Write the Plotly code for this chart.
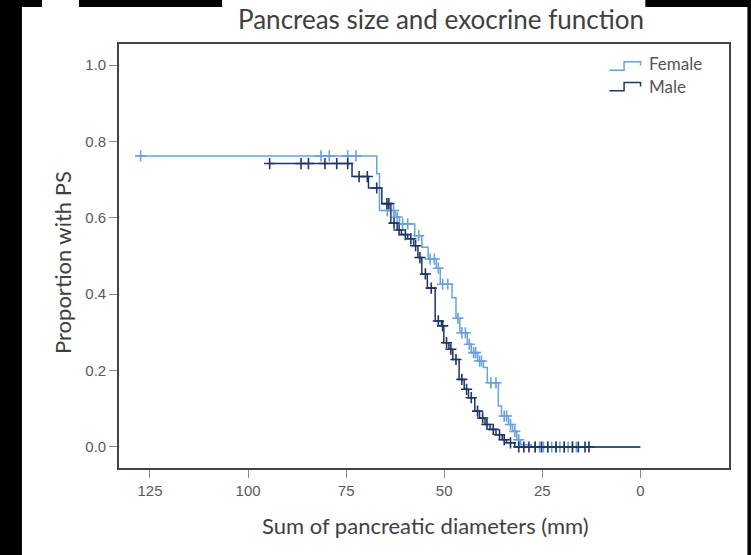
import plotly.graph_objects as go

# ---- data ----
female_start_x = 127.4
female_start_y = 0.762
female_event_x = [67.2, 66.5, 62.5, 61.4, 57.5, 55.7, 54.1, 52.0, 51.0, 48.0, 47.0, 46.0,
                  44.1, 43.1, 41.5, 40.0, 39.0, 36.2, 35.4, 33.6, 32.6, 31.5, 30.5, 27.8]
female_event_y = [0.715, 0.619, 0.602, 0.584, 0.553, 0.523, 0.492, 0.468, 0.426, 0.391, 0.337, 0.299,
                  0.269, 0.247, 0.225, 0.208, 0.168, 0.107, 0.081, 0.059, 0.041, 0.019, 0.006, 0.0]
female_censor_x = [127.4, 81.4, 79.3, 74.6, 72.5, 64.5, 62.9, 62.0, 60.6, 59.3, 56.5, 53.6, 52.5,
                   51.5, 50.4, 49.1, 46.5, 45.5, 44.6, 43.6, 42.5, 42.0, 41.0, 40.5, 38.1, 36.8,
                   34.7, 34.1, 33.1, 32.0, 31.0, 26.8, 25.7, 24.7, 23.6, 22.6, 21.5, 20.5, 19.4,
                   18.4, 17.3, 16.3]

male_start_x = 94.5
male_start_y = 0.742
male_event_x = [73.5, 69.3, 65.9, 63.6, 62.0, 60.9, 59.3, 57.8, 56.7, 55.7, 54.3, 52.3, 50.7,
                50.1, 48.8, 47.8, 46.2, 44.9, 43.8, 42.2, 41.0, 39.6, 38.3, 36.8, 35.2, 34.1, 32.0]
male_event_y = [0.708, 0.678, 0.637, 0.586, 0.568, 0.556, 0.545, 0.527, 0.496, 0.453, 0.416, 0.330,
                0.317, 0.273, 0.256, 0.229, 0.177, 0.151, 0.129, 0.094, 0.076, 0.059, 0.046, 0.032,
                0.019, 0.011, 0.0]
male_censor_x = [94.5, 86.5, 84.6, 80.4, 77.4, 74.6, 71.7, 69.6, 67.2, 64.6, 64.1, 62.8, 61.5,
                 59.9, 58.5, 57.3, 56.2, 54.8, 53.3, 51.5, 50.4, 49.4, 48.3, 47.0, 45.5, 44.3,
                 43.1, 41.5, 40.2, 39.1, 37.5, 35.9, 34.7, 33.1, 31.0, 29.7, 28.4, 26.8, 25.2,
                 23.6, 21.5, 19.4, 17.3, 15.8, 14.1, 13.1]

end_x = 0.0
x_ticks = [125, 100, 75, 50, 25, 0]
y_ticks = [0.0, 0.2, 0.4, 0.6, 0.8, 1.0]

FEMALE_COLOR = "#68a2dc"
MALE_COLOR = "#1f3566"
TEXT_FONT = "Lato"


def level_at(c, start_y, ex, ey):
    lvl = start_y
    for x, y in zip(ex, ey):
        if x >= c:
            lvl = y
        else:
            break
    return lvl


fig = go.Figure()
for name, sx, sy, ex, ey, cx, col in [
    ("Female", female_start_x, female_start_y, female_event_x, female_event_y, female_censor_x, FEMALE_COLOR),
    ("Male", male_start_x, male_start_y, male_event_x, male_event_y, male_censor_x, MALE_COLOR),
]:
    fig.add_trace(go.Scatter(
        x=[sx] + ex + [end_x], y=[sy] + ey + [ey[-1]],
        mode="lines", line=dict(color=col, width=1.5, shape="hv"),
        name=name, showlegend=False, hoverinfo="skip"))
    fig.add_trace(go.Scatter(
        x=cx, y=[level_at(c, sy, ex, ey) for c in cx],
        mode="markers",
        marker=dict(symbol="cross-thin", size=8, line=dict(color=col, width=1.6)),
        name=name + " censored", showlegend=False, hoverinfo="skip"))

# ---- geometry helpers for margin decorations (paper coords) ----
L, R, T, B = 119, 22.4, 44, 87
W, H = 751, 555
PW, PH = W - L - R, H - T - B


def px(xp):
    return (xp - L) / PW


def py(yp):
    return (H - B - yp) / PH


shapes = []
# black screenshot frame pieces
for x0, x1, y0, y1 in [(-5, 22, -5, 560), (-5, 42, -5, 7), (79, 222, -5, 7), (645, 760, -5, 7), (747, 760, -5, 560)]:
    shapes.append(dict(type="rect", xref="paper", yref="paper",
                       x0=px(x0), x1=px(x1), y0=py(y1), y1=py(y0),
                       fillcolor="black", line=dict(width=0), layer="above"))

# custom step-shaped legend icons
for col, yl, yh, ye in [(FEMALE_COLOR, 0.938, 0.958, 0.949), (MALE_COLOR, 0.890, 0.909, 0.900)]:
    path = f"M 0.804 {yl} L 0.828 {yl} L 0.828 {yh} L 0.855 {yh} L 0.855 {ye}"
    shapes.append(dict(type="path", xref="paper", yref="paper", path=path,
                       line=dict(color=col, width=1.5)))

annotations = [
    dict(text="Female", xref="paper", yref="paper", x=0.866, y=0.953, xanchor="left", yanchor="middle",
         showarrow=False, font=dict(family=TEXT_FONT, size=17, color="#555555")),
    dict(text="Male", xref="paper", yref="paper", x=0.866, y=0.899, xanchor="left", yanchor="middle",
         showarrow=False, font=dict(family=TEXT_FONT, size=17, color="#555555")),
    dict(text="Sum of pancreatic diameters (mm)", xref="paper", yref="paper", x=px(425), y=py(525),
         xanchor="center", yanchor="middle", showarrow=False,
         font=dict(family=TEXT_FONT, size=22, color="#404040")),
    dict(text="Proportion with PS", xref="paper", yref="paper", x=px(62), y=py(262),
         xanchor="center", yanchor="middle", textangle=-90, showarrow=False,
         font=dict(family=TEXT_FONT, size=22, color="#404040")),
    dict(text="Pancreas size and exocrine function", xref="paper", yref="paper", x=px(441), y=py(19),
         xanchor="center", yanchor="middle", showarrow=False,
         font=dict(family=TEXT_FONT, size=26, color="#404040")),
]

fig.update_layout(
    width=W, height=H,
    margin=dict(l=L, r=R, t=T, b=B),
    paper_bgcolor="white", plot_bgcolor="white",
    shapes=shapes, annotations=annotations,
    showlegend=False,
)
fig.update_xaxes(range=[132.9, -22.6], tickvals=x_ticks, ticktext=[str(v) for v in x_ticks],
                 ticks="outside", ticklen=8, tickcolor="#8a8a8a", tickwidth=1,
                 showline=True, linecolor="#444444", linewidth=1.6, mirror=True,
                 showgrid=False, zeroline=False,
                 tickfont=dict(family="Liberation Sans", size=15, color="#595959"))
fig.update_yaxes(range=[-0.055, 1.055], tickvals=y_ticks, ticktext=[f"{v:.1f}" for v in y_ticks],
                 ticks="outside", ticklen=8, tickcolor="#8a8a8a", tickwidth=1,
                 showline=True, linecolor="#444444", linewidth=1.6, mirror=True,
                 showgrid=False, zeroline=False,
                 tickfont=dict(family="Liberation Sans", size=15, color="#595959"))

fig.write_html("out.html", config={"displayModeBar": False},
               post_script="document.body.style.margin='0px';")
